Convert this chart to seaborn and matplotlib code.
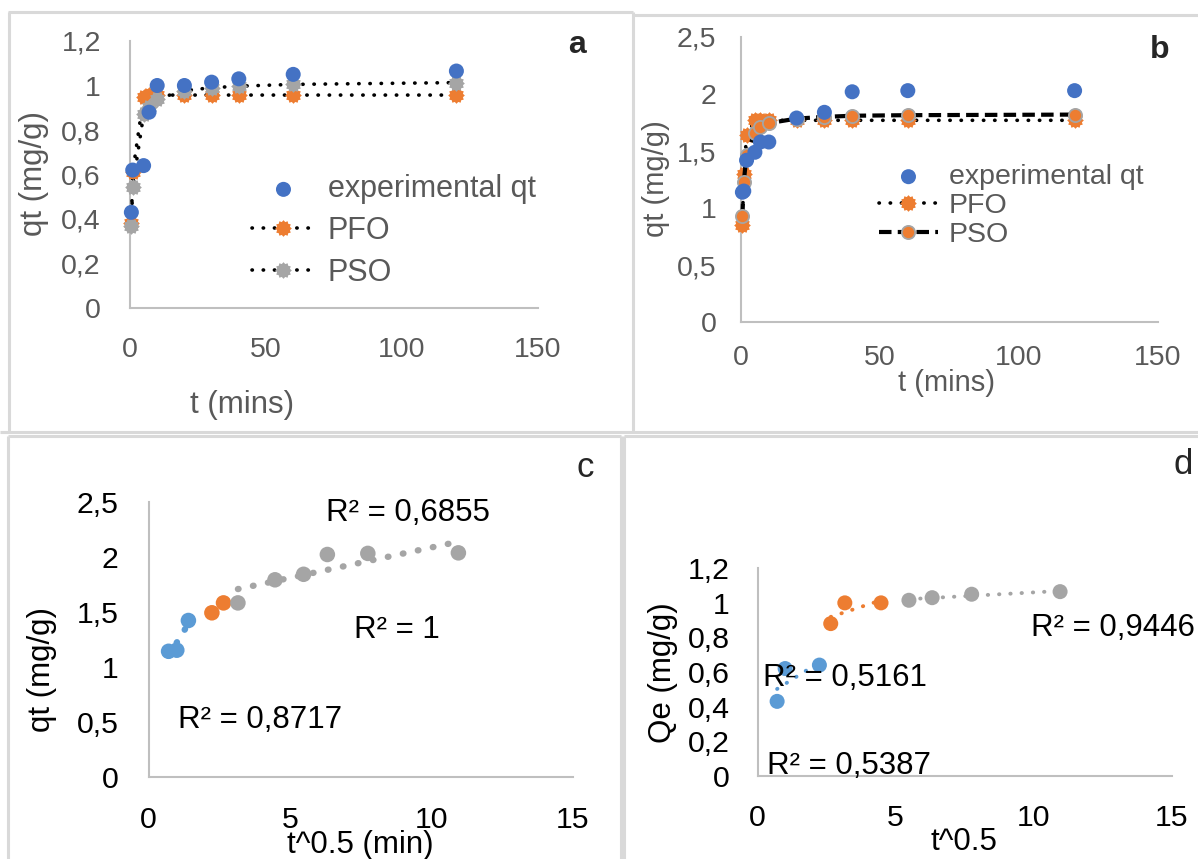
import numpy as np
import matplotlib
matplotlib.use("Agg")
import matplotlib.pyplot as plt
from matplotlib.path import Path
from matplotlib.lines import Line2D
import seaborn as sns

# ---- data -------------------------------------------------------------
# sample 1 (panel a) kinetics
t_a = [0.5, 1, 5, 7, 10, 20, 30, 40, 60, 120]
qt_exp_a = [0.43, 0.62, 0.64, 0.88, 1.00, 1.00, 1.015, 1.03, 1.05, 1.065]
qt_pfo_a = [0.38, 0.61, 0.95, 0.957, 0.957, 0.957, 0.957, 0.957, 0.957, 0.957]
qt_pso_a = [0.37, 0.545, 0.87, 0.905, 0.94, 0.977, 0.99, 0.997, 1.005, 1.013]

# sample 2 (panel b) kinetics
t_b = [0.5, 1, 2, 5, 7, 10, 20, 30, 40, 60, 120]
qt_exp_b = [1.14, 1.15, 1.42, 1.49, 1.58, 1.58, 1.79, 1.84, 2.02, 2.03, 2.03]
qt_pfo_b = [0.85, 1.30, 1.64, 1.77, 1.77, 1.77, 1.77, 1.77, 1.77, 1.77, 1.77]
qt_pso_b = [0.93, 1.23, 1.47, 1.66, 1.71, 1.745, 1.785, 1.80, 1.81, 1.815, 1.82]

# intraparticle diffusion, sample 2 (panel c)
c_x1, c_y1 = [0.71, 1.00, 1.41], [1.14, 1.15, 1.42]
c_x2, c_y2 = [2.24, 2.65], [1.49, 1.58]
c_x3, c_y3 = [3.16, 4.47, 5.48, 6.32, 7.75, 10.95], [1.58, 1.79, 1.84, 2.02, 2.03, 2.035]
c_r2 = ["R² = 0,8717", "R² = 1", "R² = 0,6855"]

# intraparticle diffusion, sample 1 (panel d)
d_x1, d_y1 = [0.71, 1.00, 2.24], [0.43, 0.62, 0.64]
d_x2, d_y2 = [2.65, 3.16, 4.47], [0.88, 1.00, 1.00]
d_x3, d_y3 = [5.48, 6.32, 7.75, 10.95], [1.015, 1.03, 1.05, 1.065]
d_r2 = ["R² = 0,5387", "R² = 0,5161", "R² = 0,9446"]

# axis ticks and labels
a_yticks = [0, 0.2, 0.4, 0.6, 0.8, 1.0, 1.2]
a_ylabels = ["0", "0,2", "0,4", "0,6", "0,8", "1", "1,2"]
b_yticks = [0, 0.5, 1.0, 1.5, 2.0, 2.5]
b_ylabels = ["0", "0,5", "1", "1,5", "2", "2,5"]
time_ticks = [0, 50, 100, 150]
root_ticks = [0, 5, 10, 15]

# ---- style ------------------------------------------------------------
sns.set_style("white")
plt.rcParams["font.family"] = ["Liberation Sans", "DejaVu Sans"]

BLUE_DARK = "#4472C4"
BLUE = "#5B9BD5"
ORANGE = "#ED7D31"
GREY = "#A5A5A5"
TXT = "#595959"
AXIS = "#bfbfbf"

W, H = 1198, 859
fig = plt.figure(figsize=(W / 100, H / 100), dpi=100)

# rounded, serrated marker used for the model points
gear = Path.unit_regular_star(12, 0.8)
dotted = (0, (0.1, 3.0))


def px_axes(left, top, right, bottom):
    return fig.add_axes([left / W, 1 - bottom / H, (right - left) / W, (bottom - top) / H])


def style_axes(ax, size, color, xpad, ypad):
    for s in ("top", "right"):
        ax.spines[s].set_visible(False)
    for s in ("left", "bottom"):
        ax.spines[s].set_color(AXIS)
        ax.spines[s].set_linewidth(1.5)
    ax.tick_params(axis="both", length=0, labelsize=size, labelcolor=color)
    ax.tick_params(axis="x", pad=xpad)
    ax.tick_params(axis="y", pad=ypad)
    ax.grid(False)
    ax.set_facecolor("none")


# ---- panel frames -----------------------------------------------------
frame_kw = dict(color="#d9d9d9", lw=2.2, transform=fig.transFigure, solid_capstyle="butt")


def hline(x0, x1, y):
    fig.add_artist(Line2D([x0 / W, x1 / W], [1 - y / H, 1 - y / H], **frame_kw))


def vline(x, y0, y1):
    fig.add_artist(Line2D([x / W, x / W], [1 - y0 / H, 1 - y1 / H], **frame_kw))


hline(8, 633, 12)
vline(9, 12, 432)
vline(633, 12, 432)
hline(633, W, 15)
hline(0, W, 432)
hline(8, 621, 436)
vline(8, 436, H)
vline(621, 436, H)
hline(624, W, 436)
vline(624, 436, H)

# ---- panel a ----------------------------------------------------------
ax = px_axes(130, 41, 538, 308)
sns.scatterplot(x=t_a, y=qt_exp_a, ax=ax, color=BLUE_DARK, s=117, edgecolor="none",
                label="experimental qt", zorder=5, clip_on=False)
sns.lineplot(x=t_a, y=qt_pfo_a, ax=ax, color="black", lw=2.6, linestyle=dotted,
             dash_capstyle="round", marker=gear, markersize=12, markerfacecolor=ORANGE,
             markeredgecolor=ORANGE, markeredgewidth=0, label="PFO", zorder=3, clip_on=False)
sns.lineplot(x=t_a, y=qt_pso_a, ax=ax, color="black", lw=2.6, linestyle=dotted,
             dash_capstyle="round", marker=gear, markersize=12, markerfacecolor=GREY,
             markeredgecolor=GREY, markeredgewidth=0, label="PSO", zorder=4, clip_on=False)
ax.set_xlim(0, 150)
ax.set_ylim(0, 1.2)
ax.set_xticks(time_ticks)
ax.set_yticks(a_yticks)
ax.set_yticklabels(a_ylabels)
style_axes(ax, 20.5, TXT, 20.7, 21)
ax.set_xlabel("t (mins)", fontsize=22.5, color=TXT, va="center")
ax.set_ylabel("qt (mg/g)", fontsize=22.5, color=TXT, va="center")
ax.xaxis.set_label_coords((242 - 130) / 408, (308 - 405) / 267)
ax.yaxis.set_label_coords((34 - 130) / 408, (308 - 174) / 267)
leg = ax.legend(loc="center left", bbox_to_anchor=(252 / W, 1 - 231 / H),
                bbox_transform=fig.transFigure, frameon=False, fontsize=22,
                borderpad=0, borderaxespad=0, handlelength=2.06, handletextpad=0.42,
                labelspacing=0.38, numpoints=1, scatterpoints=1)
for txt in leg.get_texts():
    txt.set_color(TXT)
fig.text(577 / W, 1 - 45 / H, "a", fontsize=23, fontweight="bold", ha="center", va="center")

# ---- panel b ----------------------------------------------------------
ax = px_axes(741, 37, 1158, 322.3)
sns.scatterplot(x=t_b, y=qt_exp_b, ax=ax, color=BLUE_DARK, s=117, edgecolor="none",
                label="experimental qt", zorder=5, clip_on=False)
sns.lineplot(x=t_b, y=qt_pfo_b, ax=ax, color="black", lw=2.6, linestyle=dotted,
             dash_capstyle="round", marker=gear, markersize=12, markerfacecolor=ORANGE,
             markeredgecolor=ORANGE, markeredgewidth=0, label="PFO", zorder=3, clip_on=False)
sns.lineplot(x=t_b, y=qt_pso_b, ax=ax, color="black", lw=3.0, linestyle=(0, (3.0, 1.5)),
             marker="o", markersize=9.5, markerfacecolor=ORANGE,
             markeredgecolor=GREY, markeredgewidth=1.3, label="PSO", zorder=4, clip_on=False)
ax.set_xlim(0, 150)
ax.set_ylim(0, 2.5)
ax.set_xticks(time_ticks)
ax.set_yticks(b_yticks)
ax.set_yticklabels(b_ylabels)
style_axes(ax, 20.5, TXT, 16, 17.7)
ax.set_xlabel("t (mins)", fontsize=21, color=TXT, va="center")
ax.set_ylabel("qt (mg/g)", fontsize=21, color=TXT, va="center")
ax.xaxis.set_label_coords((947 - 741) / 417, (322.3 - 383) / 285.3)
ax.yaxis.set_label_coords((656 - 741) / 417, (322.3 - 179) / 285.3)
leg = ax.legend(loc="center left", bbox_to_anchor=(879 / W, 1 - 206 / H),
                bbox_transform=fig.transFigure, frameon=False, fontsize=20.5,
                borderpad=0, borderaxespad=0, handlelength=2.07, handletextpad=0.39,
                labelspacing=0.1, numpoints=1, scatterpoints=1)
for txt in leg.get_texts():
    txt.set_color(TXT)
fig.text(1160 / W, 1 - 50 / H, "b", fontsize=23, fontweight="bold", ha="center", va="center")

# ---- panel c ----------------------------------------------------------
ax = px_axes(148.5, 501.7, 573, 776.7)
trend_c = dict(lw=4.6, linestyle=(0, (0.1, 2.3)), dash_capstyle="round")
for xs, ys, col in ((c_x1, c_y1, BLUE), (c_x2, c_y2, ORANGE), (c_x3, c_y3, GREY)):
    sns.regplot(x=xs, y=ys, ax=ax, scatter=False, ci=None, color=col,
                line_kws=dict(trend_c, zorder=2))
    sns.scatterplot(x=xs, y=ys, ax=ax, color=col, s=125, edgecolor="none", zorder=3,
                    clip_on=False)
ax.set_xlim(0, 15)
ax.set_ylim(0, 2.5)
ax.set_xticks(root_ticks)
ax.set_yticks(b_yticks)
ax.set_yticklabels(b_ylabels)
style_axes(ax, 21.8, "black", 21, 21.5)
ax.set_xlabel("t^0.5 (min)", fontsize=22.5, color="black", va="center")
ax.set_ylabel("qt (mg/g)", fontsize=22.5, color="black", va="center")
ax.xaxis.set_label_coords((360 - 148.5) / 424.5, (776.7 - 845) / 275)
ax.yaxis.set_label_coords((42 - 148.5) / 424.5, (776.7 - 670) / 275)
for (x, y), s in zip(((1.04, 0.515), (7.26, 1.334), (6.27, 2.397)), c_r2):
    ax.text(x, y, s, fontsize=22.5, ha="left", va="center", color="black")
fig.text(585 / W, 1 - 467 / H, "c", fontsize=25, ha="center", va="center")

# ---- panel d ----------------------------------------------------------
ax = px_axes(757.5, 568.3, 1172, 775.7)
trend_d = dict(lw=2.8, linestyle=(0, (0.1, 2.8)), dash_capstyle="round")
for xs, ys, col in ((d_x1, d_y1, BLUE), (d_x2, d_y2, ORANGE), (d_x3, d_y3, GREY)):
    sns.regplot(x=xs, y=ys, ax=ax, scatter=False, ci=None, color=col,
                line_kws=dict(trend_d, zorder=2))
    sns.scatterplot(x=xs, y=ys, ax=ax, color=col, s=117, edgecolor="none", zorder=3,
                    clip_on=False)
ax.set_xlim(0, 15)
ax.set_ylim(0, 1.2)
ax.set_xticks(root_ticks)
ax.set_yticks(a_yticks)
ax.set_yticklabels(a_ylabels)
style_axes(ax, 21.8, "black", 20.5, 20)
ax.set_xlabel("t^0.5", fontsize=22.5, color="black", va="center")
ax.set_ylabel("Qe (mg/g)", fontsize=22.5, color="black", va="center")
ax.xaxis.set_label_coords((964 - 757.5) / 414.5, (775.7 - 842) / 207.4)
ax.yaxis.set_label_coords((663 - 757.5) / 414.5, (775.7 - 673) / 207.4)
for (x, y), s in zip(((0.34, 0.056), (0.2, 0.565), (9.9, 0.855)), d_r2):
    ax.text(x, y, s, fontsize=22.5, ha="left", va="center", color="black", zorder=6)
fig.text(1183 / W, 1 - 465 / H, "d", fontsize=25, ha="center", va="center")

fig.savefig("out.png", dpi=100)
